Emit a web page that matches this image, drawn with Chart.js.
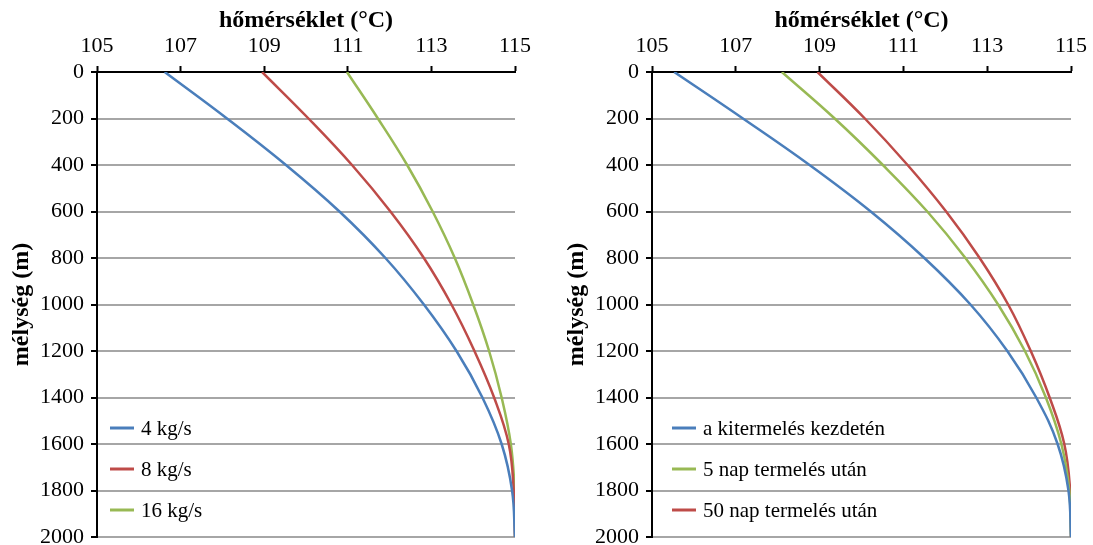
<!DOCTYPE html>
<html>
<head>
<meta charset="utf-8">
<script src="https://cdn.jsdelivr.net/npm/chart.js@4"></script>
<style>
  body { margin: 0; background: #fff; }
  .wrap { position: absolute; top: 0; height: 545px; }
</style>
</head>
<body>
<div class="wrap" style="left:0;width:546px"><canvas id="chartFlow"></canvas></div>
<div class="wrap" style="left:546px;width:547px"><canvas id="chartTime"></canvas></div>
<script>
// depth levels (m)
const depths = [0, 200, 400, 600, 800, 1000, 1200, 1400, 1600, 1800, 2000];

// left chart: temperature (°C) for different flow rates
const flowLabels = ["4 kg/s", "8 kg/s", "16 kg/s"];
const temp4 = [106.62, 108.11, 109.52, 110.80, 111.90, 112.82, 113.60, 114.22, 114.68, 114.93, 115.00];
const temp8 = [108.95, 110.06, 111.10, 112.02, 112.82, 113.48, 114.03, 114.50, 114.85, 114.97, 115.00];
const temp16 = [110.98, 111.72, 112.42, 113.03, 113.56, 114.00, 114.38, 114.68, 114.90, 114.99, 115.00];

// right chart: temperature (°C) over production time
const timeLabels = ["a kitermelés kezdetén", "5 nap termelés után", "50 nap termelés után"];
const tempStart = [105.53, 107.17, 108.76, 110.22, 111.50, 112.60, 113.48, 114.17, 114.68, 114.94, 115.00];
const temp5day = [108.10, 109.36, 110.51, 111.57, 112.48, 113.26, 113.90, 114.40, 114.77, 114.96, 115.00];
const temp50day = [108.95, 110.08, 111.10, 112.02, 112.82, 113.50, 114.04, 114.49, 114.84, 114.98, 115.00];

const xTicks = [105, 107, 109, 111, 113, 115];

const BLUE = "#4a7ebb", RED = "#be4b48", GREEN = "#98b954";
const SERIF = '"Liberation Serif", "Times New Roman", serif';

function toPoints(temps) {
  return temps.map((t, i) => ({ x: t, y: depths[i] }));
}

// legend drawn inside the plot area, lower left
const insideLegend = {
  id: "insideLegend",
  afterDraw(chart, args, opts) {
    const { ctx, chartArea } = chart;
    ctx.save();
    ctx.font = "21px " + SERIF;
    ctx.textBaseline = "middle";
    chart.data.datasets.forEach((ds, i) => {
      const y = opts.top + i * opts.spacing;
      const x = chartArea.left + opts.left;
      ctx.strokeStyle = ds.borderColor;
      ctx.lineWidth = 3;
      ctx.beginPath();
      ctx.moveTo(x, y);
      ctx.lineTo(x + 24, y);
      ctx.stroke();
      ctx.fillStyle = "#000";
      ctx.fillText(ds.label, x + 31, y + 1);
    });
    ctx.restore();
  }
};

function makeChart(canvasId, labels, series, colors, cfg) {
  return new Chart(document.getElementById(canvasId), {
    type: "scatter",
    data: {
      datasets: series.map((s, i) => ({
        label: labels[i],
        data: toPoints(s),
        showLine: true,
        borderColor: colors[i],
        backgroundColor: colors[i],
        borderWidth: 2.5,
        pointRadius: 0,
        tension: 0.4
      }))
    },
    options: {
      responsive: true,
      maintainAspectRatio: false,
      animation: false,
      events: [],
      layout: { padding: { left: 0, top: 0, right: cfg.padRight, bottom: 8 } },
      plugins: {
        legend: { display: false },
        tooltip: { enabled: false },
        insideLegend: { left: cfg.legendLeft, top: 428, spacing: 41 }
      },
      scales: {
        x: {
          type: "linear",
          position: "top",
          min: 105,
          max: 115,
          afterBuildTicks: scale => { scale.ticks = xTicks.map(v => ({ value: v })); },
          afterFit: scale => {
            scale.height = 72;
            scale.paddingLeft = 0;
            scale.paddingRight = 0;
          },
          ticks: { color: "#000", font: { family: SERIF, size: 22 }, padding: 7, callback: v => String(v) },
          grid: { drawOnChartArea: false, drawTicks: true, tickLength: 6, tickColor: "#000", tickWidth: 2 },
          border: { color: "#000", width: 2 },
          title: {
            display: true,
            text: "hőmérséklet (°C)",
            color: "#000",
            font: { family: SERIF, size: 24, weight: "bold" },
            padding: { top: 6, bottom: 0 }
          }
        },
        y: {
          type: "linear",
          reverse: true,
          min: 0,
          max: 2000,
          afterFit: scale => {
            scale.width = cfg.yWidth;
            scale.paddingTop = 0;
            scale.paddingBottom = 0;
          },
          ticks: { stepSize: 200, color: "#000", font: { family: SERIF, size: 22 }, padding: 7, callback: v => String(v) },
          grid: { color: "#a6a6a6", lineWidth: 2, drawTicks: true, tickLength: 6, tickColor: "#000", tickWidth: 2 },
          border: { color: "#000", width: 2 },
          title: {
            display: true,
            text: "mélység (m)",
            color: "#000",
            font: { family: SERIF, size: 24, weight: "bold" },
            padding: { top: cfg.yTitlePad, bottom: 0 }
          }
        }
      }
    },
    plugins: [insideLegend]
  });
}

makeChart("chartFlow", flowLabels, [temp4, temp8, temp16], [BLUE, RED, GREEN],
  { padRight: 31, yWidth: 97, yTitlePad: 7, legendLeft: 13 });
makeChart("chartTime", timeLabels, [tempStart, temp5day, temp50day], [BLUE, GREEN, RED],
  { padRight: 22, yWidth: 106, yTitlePad: 16, legendLeft: 20 });
</script>
</body>
</html>
